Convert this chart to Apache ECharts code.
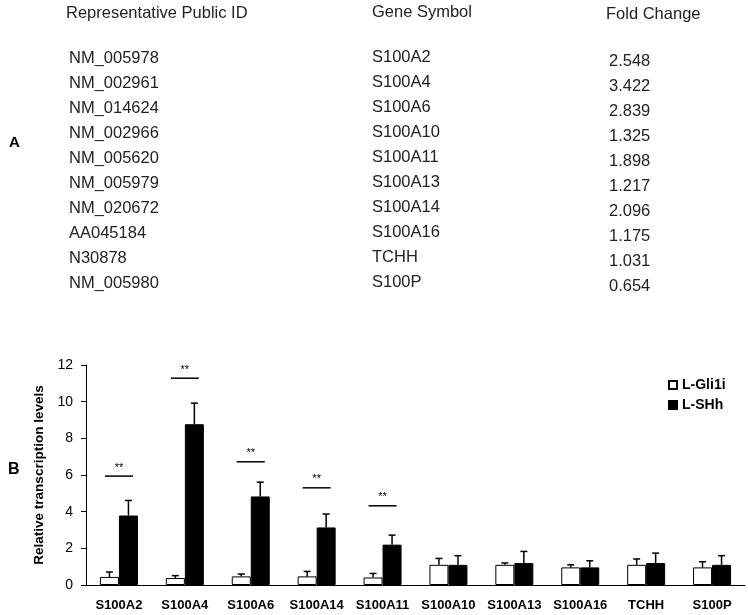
<!DOCTYPE html>
<html><head><meta charset="utf-8">
<script src="https://cdn.jsdelivr.net/npm/echarts@6/dist/echarts.min.js"></script>
<style>html,body{margin:0;padding:0;background:#fff}#c{width:748px;height:615px}</style>
</head><body><div id="c"></div>
<script>
// Table (panel A)
const publicIds = ['NM_005978','NM_002961','NM_014624','NM_002966','NM_005620','NM_005979','NM_020672','AA045184','N30878','NM_005980'];
const geneSymbols = ['S100A2','S100A4','S100A6','S100A10','S100A11','S100A13','S100A14','S100A16','TCHH','S100P'];
const foldChanges = ['2.548','3.422','2.839','1.325','1.898','1.217','2.096','1.175','1.031','0.654'];

// Bar chart (panel B)
const categories = ['S100A2','S100A4','S100A6','S100A14','S100A11','S100A10','S100A13','S100A16','TCHH','S100P'];
const gli1iValues = [0.44,0.38,0.47,0.47,0.41,1.10,1.10,0.96,1.10,0.96];
const gli1iErrTop = [0.71,0.51,0.60,0.74,0.63,1.45,1.20,1.10,1.42,1.27];
const shhValues   = [3.79,8.77,4.83,3.14,2.20,1.10,1.20,0.96,1.20,1.10];
const shhErrTop   = [4.61,9.92,5.61,3.87,2.72,1.60,1.83,1.32,1.74,1.60];
const sigCategories = ['S100A2','S100A4','S100A6','S100A14','S100A11'];
const sigLevels = [5.94,11.28,6.72,5.30,4.32];
const sigLabel = '**';
const yTicks = [0,2,4,6,8,10,12];

const FONT = 'Liberation Sans, Arial, sans-serif';
const chart = echarts.init(document.getElementById('c'));

const graphics = [];
const tStyle = {fontFamily: FONT, fontSize: 16.5, fill: '#222'};
graphics.push({type:'text', left:66, top:5, style:Object.assign({text:'Representative Public ID'}, tStyle)});
graphics.push({type:'text', left:372, top:4, style:Object.assign({text:'Gene Symbol'}, tStyle)});
graphics.push({type:'text', left:606, top:6, style:Object.assign({text:'Fold Change'}, tStyle)});
publicIds.forEach((id, i) => {
  graphics.push({type:'text', left:69, top:50 + 25*i, style:Object.assign({text:id}, tStyle)});
  graphics.push({type:'text', left:372, top:49 + 25*i, style:Object.assign({text:geneSymbols[i]}, tStyle)});
  graphics.push({type:'text', left:609, top:53 + 25*i, style:Object.assign({text:foldChanges[i]}, tStyle)});
});
graphics.push({type:'text', left:9, top:135, style:{text:'A', fontFamily:FONT, fontSize:15, fontWeight:'bold', fill:'#000'}});
graphics.push({type:'text', left:8, top:462, style:{text:'B', fontFamily:FONT, fontSize:16, fontWeight:'bold', fill:'#000'}});

function errRender(offsetSign) {
  return function(params, api) {
    const idx = api.value(0);
    const v = api.value(1);
    const t = api.value(2);
    const base = api.coord([idx, v]);
    const top = api.coord([idx, t]);
    const x = base[0] + offsetSign * 9.5;
    return {type:'group', children:[
      {type:'line', shape:{x1:x, y1:base[1], x2:x, y2:top[1]}, style:{stroke:'#000', lineWidth:1.5}},
      {type:'line', shape:{x1:x-3.5, y1:top[1], x2:x+3.5, y2:top[1]}, style:{stroke:'#000', lineWidth:1.5}}
    ]};
  };
}

const sigData = sigCategories.map((c, i) => [categories.indexOf(c), sigLevels[i]]);

chart.setOption({
  animation:false,
  backgroundColor:'#fff',
  graphic: graphics,
  grid:{left:86, right:3, top:365, bottom:30, containLabel:false},
  legend:{
    orient:'vertical', left:663, top:373, itemWidth:8, itemHeight:8, itemGap:6,
    icon:'rect',
    textStyle:{fontFamily:FONT, fontSize:14, fontWeight:'bold', color:'#000'},
    data:['L-Gli1i','L-SHh']
  },
  xAxis:{
    type:'category', data:categories,
    axisLine:{lineStyle:{color:'#000', width:1}},
    axisTick:{inside:true, length:4, lineStyle:{color:'#000'}},
    axisLabel:{fontFamily:FONT, fontSize:13, fontWeight:'bold', color:'#000', margin:14, interval:0}
  },
  yAxis:{
    type:'value', min:0, max:12, interval:2,
    name:'Relative transcription levels', nameLocation:'middle', nameGap:35,
    nameTextStyle:{fontFamily:FONT, fontSize:13.5, fontWeight:'bold', color:'#000'},
    axisLine:{show:true, lineStyle:{color:'#000', width:1}},
    axisTick:{show:true, length:5, lineStyle:{color:'#000'}},
    axisLabel:{fontFamily:FONT, fontSize:14, color:'#000', margin:13,
      formatter:(v)=> yTicks.includes(v) ? String(v) : ''},
    splitLine:{show:false}
  },
  series:[
    {name:'L-Gli1i', type:'bar', data:gli1iValues, barWidth:19, barGap:'0%',
      itemStyle:{color:'#fff', borderColor:'#000', borderWidth:1}},
    {name:'L-SHh', type:'bar', data:shhValues, barWidth:19, barGap:'0%',
      itemStyle:{color:'#000', borderColor:'#000', borderWidth:1}},
    {type:'custom', renderItem:errRender(-1), z:5,
      data:gli1iValues.map((v,i)=>[i, v, gli1iErrTop[i]]), encode:{x:0, y:[1,2]}},
    {type:'custom', renderItem:errRender(1), z:5,
      data:shhValues.map((v,i)=>[i, v, shhErrTop[i]]), encode:{x:0, y:[1,2]}},
    {type:'custom', z:5, data:sigData, encode:{x:0, y:1},
      renderItem:function(params, api){
        const p = api.coord([api.value(0), api.value(1)]);
        return {type:'group', children:[
          {type:'line', shape:{x1:p[0]-14, y1:p[1], x2:p[0]+14, y2:p[1]}, style:{stroke:'#000', lineWidth:1.5}},
          {type:'text', x:p[0], y:p[1]-3, style:{text:sigLabel, fontFamily:FONT, fontSize:11, fill:'#000', textAlign:'center', textVerticalAlign:'bottom'}}
        ]};
      }}
  ]
});
</script></body></html>
